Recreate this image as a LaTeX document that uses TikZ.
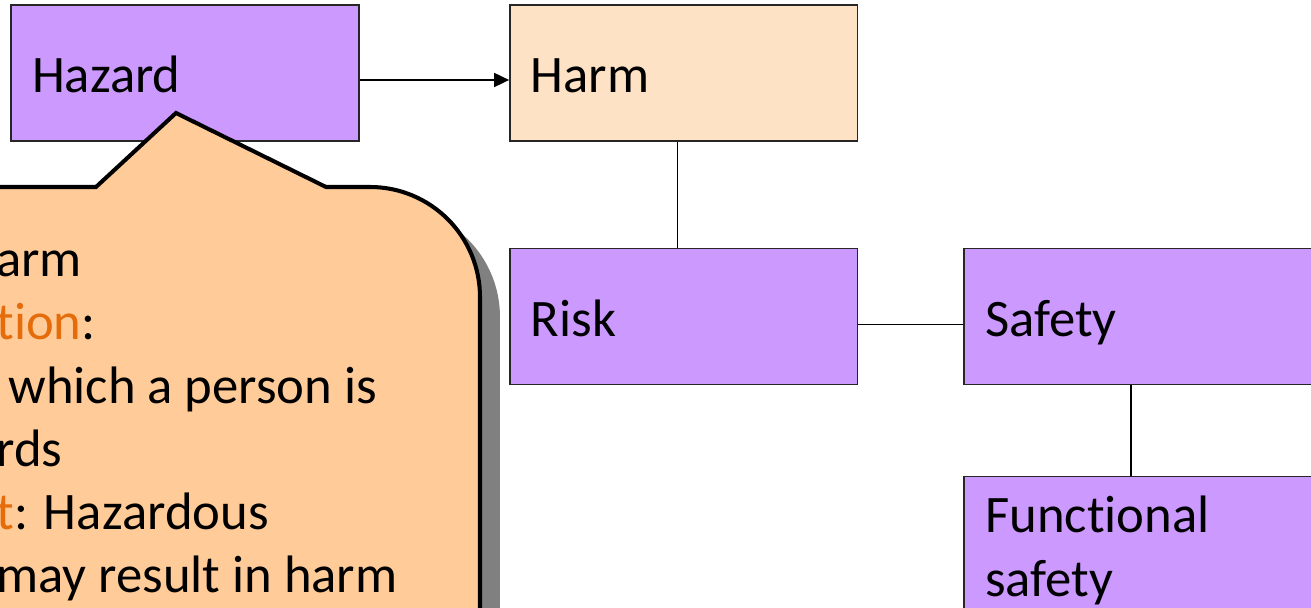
\documentclass[tikz,border=0pt]{standalone}
\usepackage{fontspec}
\setmainfont{Carlito}[Ligatures=NoCommon]
\usetikzlibrary{positioning, arrows.meta, shadows}
\definecolor{boxpurple}{HTML}{CC99FF}
\definecolor{harmpeach}{HTML}{FDE2C6}
\definecolor{notepeach}{HTML}{FFCC99}
\definecolor{noteorange}{HTML}{E46C0A}
\definecolor{shadowgrey}{HTML}{808080}

\begin{document}
\begin{tikzpicture}[
    x=0.02cm, y=0.02cm,
    node distance=2.12cm,
    term/.style={draw=black!85, line width=0.8pt, fill=boxpurple, text width=6.12cm, inner xsep=0.42cm, inner ysep=0pt, text height=50pt, text depth=27.4pt, align=left, font=\fontsize{30}{36}\selectfont},
    link/.style={line width=0.9pt},
    arrow/.style={-{Triangle[length=0.3cm, width=0.28cm]}, line width=1pt},
    callout/.style={fill=notepeach, draw=black, line width=2.3pt, drop shadow={shadow xshift=0.4cm, shadow yshift=-0.4cm, fill=shadowgrey, opacity=1}}
]
\useasboundingbox (0,0) rectangle (1311,608);
\clip (0,0) rectangle (1311,608);

\node[term] (hazard) at (185,535) {Hazard};
\node[term, fill=harmpeach, right=2.99cm of hazard] (harm) {Harm};
\node[term, below=of harm] (risk) {Risk};
\node[term, right=2.1cm of risk] (safety) {Safety};
\node[term, below=1.82cm of safety, text height=32pt, text depth=52pt] (funcsafety) {Functional\\safety};

\draw[arrow] ([yshift=-0.14cm]hazard.east) -- ([yshift=-0.14cm]harm.west);
\draw[link] ([xshift=-0.13cm]harm.south) -- ([xshift=-0.13cm]risk.north);
\draw[link] ([yshift=-0.16cm]risk.east) -- ([yshift=-0.16cm]safety.west);
\draw[link] ([xshift=-0.14cm]safety.south) -- ([xshift=-0.14cm]funcsafety.north);

% callout over the hazard box
\path[callout] (-50,-50) -- (-50,421) -- (96,421) -- (176,495) -- (326,421) -- (370,421)
    arc[start angle=90, end angle=0, radius=2.2cm] -- (480,-50) -- cycle;
\node[anchor=base west, inner sep=0pt, align=left, font=\fontsize{30}{36}\selectfont] (notes) at (-4,15)
    {arm\\\textcolor{noteorange}{tion}:\\\hspace*{0.24cm}which a person is\\rds\\\textcolor{noteorange}{t}: Hazardous\\may result in harm};

\end{tikzpicture}
\end{document}
